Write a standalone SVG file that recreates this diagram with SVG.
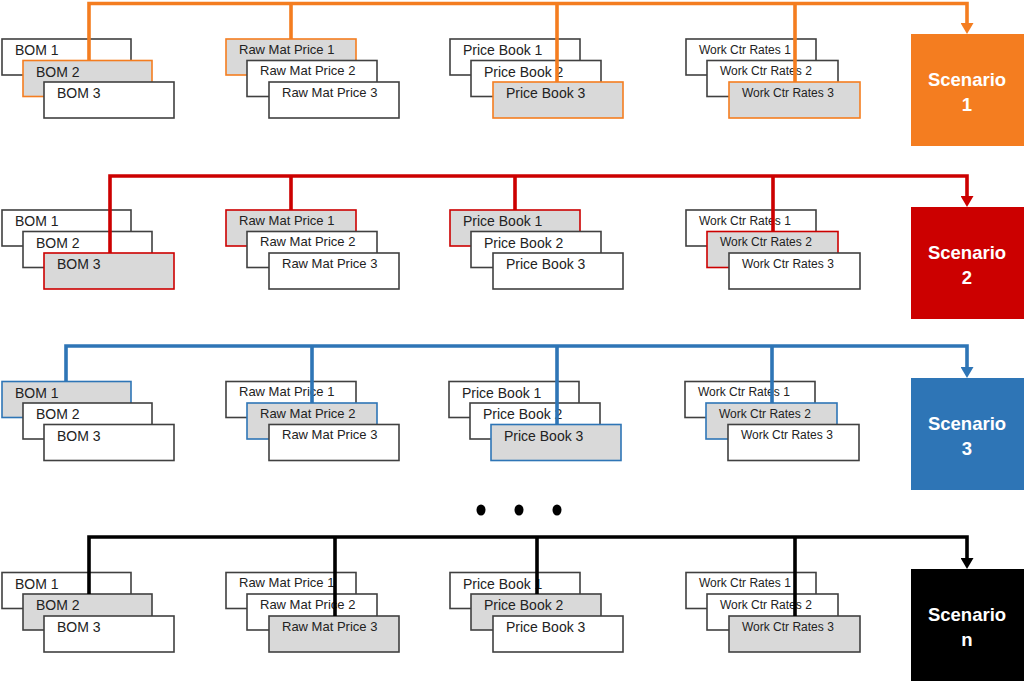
<svg xmlns="http://www.w3.org/2000/svg" width="1024" height="681" viewBox="0 0 1024 681">
<style>
.b{fill:#fff;stroke:#404040;stroke-width:1.6}
.s{fill:#d9d9d9;stroke-width:1.6}
.t{font-family:"Liberation Sans",Arial,sans-serif;font-size:14px;fill:#222}
.t2{font-family:"Liberation Sans",Arial,sans-serif;font-size:13px;fill:#222}
.t3{font-family:"Liberation Sans",Arial,sans-serif;font-size:12px;fill:#222}
.sc{font-family:"Liberation Sans",Arial,sans-serif;font-size:18.5px;font-weight:bold;fill:#fff;text-anchor:middle}
.c{fill:none;stroke-width:3.6}
.o{stroke:#f47d20}.r{stroke:#cc0000}.bl{stroke:#2e75b6}.k{stroke:#000}
</style>
<defs>
<marker id="ao" markerUnits="userSpaceOnUse" markerWidth="12" markerHeight="13" refX="2" refY="6.5" orient="auto"><path d="M0,0 L11,6.5 L0,13 z" fill="#f47d20"/></marker>
<marker id="ar" markerUnits="userSpaceOnUse" markerWidth="12" markerHeight="13" refX="2" refY="6.5" orient="auto"><path d="M0,0 L11,6.5 L0,13 z" fill="#cc0000"/></marker>
<marker id="ab" markerUnits="userSpaceOnUse" markerWidth="12" markerHeight="13" refX="2" refY="6.5" orient="auto"><path d="M0,0 L11,6.5 L0,13 z" fill="#2e75b6"/></marker>
<marker id="ak" markerUnits="userSpaceOnUse" markerWidth="12" markerHeight="13" refX="2" refY="6.5" orient="auto"><path d="M0,0 L11,6.5 L0,13 z" fill="#000"/></marker>
</defs>

<!-- Row 1 -->
<g id="r1-bom">
<g id="r1-bom1"><rect class="b" x="2" y="39" width="129" height="36"/><text class="t" x="15" y="55">BOM 1</text></g>
<g id="r1-bom2"><rect class="s" stroke="#f47d20" x="23" y="60.5" width="129" height="36"/><text class="t" x="36" y="76.5">BOM 2</text></g>
<g id="r1-bom3"><rect class="b" x="44" y="82" width="130" height="36"/><text class="t" x="57" y="98">BOM 3</text></g>
</g>
<g id="r1-rmp">
<g id="r1-rmp1"><rect class="s" stroke="#f47d20" x="226" y="39" width="130" height="36"/><text class="t2" x="239" y="53.5">Raw Mat Price 1</text></g>
<g id="r1-rmp2"><rect class="b" x="247" y="60.5" width="130" height="36"/><text class="t2" x="260" y="75">Raw Mat Price 2</text></g>
<g id="r1-rmp3"><rect class="b" x="269" y="82" width="130" height="36"/><text class="t2" x="282" y="96.5">Raw Mat Price 3</text></g>
</g>
<g id="r1-pb">
<g id="r1-pb1"><rect class="b" x="450" y="39" width="130" height="36"/><text class="t" x="463" y="55">Price Book 1</text></g>
<g id="r1-pb2"><rect class="b" x="471" y="60.5" width="130" height="36"/><text class="t" x="484" y="76.5">Price Book 2</text></g>
<g id="r1-pb3"><rect class="s" stroke="#f47d20" x="493" y="82" width="130" height="36"/><text class="t" x="506" y="98">Price Book 3</text></g>
</g>
<g id="r1-wcr">
<g id="r1-wcr1"><rect class="b" x="686" y="39" width="130" height="36"/><text class="t3" x="699" y="53.5">Work Ctr Rates 1</text></g>
<g id="r1-wcr2"><rect class="b" x="707" y="60.5" width="131" height="36"/><text class="t3" x="720" y="75">Work Ctr Rates 2</text></g>
<g id="r1-wcr3"><rect class="s" stroke="#f47d20" x="729" y="82" width="131" height="36"/><text class="t3" x="742" y="96.5">Work Ctr Rates 3</text></g>
</g>
<g id="scenario1"><rect x="911" y="34" width="113" height="112" fill="#f47d20"/><text class="sc" x="967" y="86">Scenario</text><text class="sc" x="967" y="111">1</text></g>

<!-- Row 2 -->
<g id="r2-bom">
<g id="r2-bom1"><rect class="b" x="2" y="210" width="129" height="36"/><text class="t" x="15" y="226">BOM 1</text></g>
<g id="r2-bom2"><rect class="b" x="23" y="231.5" width="129" height="36"/><text class="t" x="36" y="247.5">BOM 2</text></g>
<g id="r2-bom3"><rect class="s" stroke="#cc0000" x="44" y="253" width="130" height="36"/><text class="t" x="57" y="269">BOM 3</text></g>
</g>
<g id="r2-rmp">
<g id="r2-rmp1"><rect class="s" stroke="#cc0000" x="226" y="210" width="130" height="36"/><text class="t2" x="239" y="224.5">Raw Mat Price 1</text></g>
<g id="r2-rmp2"><rect class="b" x="247" y="231.5" width="130" height="36"/><text class="t2" x="260" y="246">Raw Mat Price 2</text></g>
<g id="r2-rmp3"><rect class="b" x="269" y="253" width="130" height="36"/><text class="t2" x="282" y="267.5">Raw Mat Price 3</text></g>
</g>
<g id="r2-pb">
<g id="r2-pb1"><rect class="s" stroke="#cc0000" x="450" y="210" width="130" height="36"/><text class="t" x="463" y="226">Price Book 1</text></g>
<g id="r2-pb2"><rect class="b" x="471" y="231.5" width="130" height="36"/><text class="t" x="484" y="247.5">Price Book 2</text></g>
<g id="r2-pb3"><rect class="b" x="493" y="253" width="130" height="36"/><text class="t" x="506" y="269">Price Book 3</text></g>
</g>
<g id="r2-wcr">
<g id="r2-wcr1"><rect class="b" x="686" y="210" width="130" height="36"/><text class="t3" x="699" y="224.5">Work Ctr Rates 1</text></g>
<g id="r2-wcr2"><rect class="s" stroke="#cc0000" x="707" y="231.5" width="131" height="36"/><text class="t3" x="720" y="246">Work Ctr Rates 2</text></g>
<g id="r2-wcr3"><rect class="b" x="729" y="253" width="131" height="36"/><text class="t3" x="742" y="267.5">Work Ctr Rates 3</text></g>
</g>
<g id="scenario2"><rect x="911" y="207" width="113" height="112" fill="#cc0000"/><text class="sc" x="967" y="259">Scenario</text><text class="sc" x="967" y="284">2</text></g>

<!-- Row 3 -->
<g id="r3-bom">
<g id="r3-bom1"><rect class="s" stroke="#2e75b6" x="2" y="381.5" width="129" height="36"/><text class="t" x="15" y="397.5">BOM 1</text></g>
<g id="r3-bom2"><rect class="b" x="23" y="403" width="129" height="36"/><text class="t" x="36" y="419">BOM 2</text></g>
<g id="r3-bom3"><rect class="b" x="44" y="424.5" width="130" height="36"/><text class="t" x="57" y="440.5">BOM 3</text></g>
</g>
<g id="r3-rmp">
<g id="r3-rmp1"><rect class="b" x="226" y="381.5" width="130" height="36"/><text class="t2" x="239" y="396">Raw Mat Price 1</text></g>
<g id="r3-rmp2"><rect class="s" stroke="#2e75b6" x="247" y="403" width="130" height="36"/><text class="t2" x="260" y="417.5">Raw Mat Price 2</text></g>
<g id="r3-rmp3"><rect class="b" x="269" y="424.5" width="130" height="36"/><text class="t2" x="282" y="439">Raw Mat Price 3</text></g>
</g>
<g id="r3-pb">
<g id="r3-pb1"><rect class="b" x="449" y="381.5" width="130" height="36"/><text class="t" x="462" y="397.5">Price Book 1</text></g>
<g id="r3-pb2"><rect class="b" x="470" y="403" width="130" height="36"/><text class="t" x="483" y="419">Price Book 2</text></g>
<g id="r3-pb3"><rect class="s" stroke="#2e75b6" x="491" y="424.5" width="130" height="36"/><text class="t" x="504" y="440.5">Price Book 3</text></g>
</g>
<g id="r3-wcr">
<g id="r3-wcr1"><rect class="b" x="685" y="381.5" width="130" height="36"/><text class="t3" x="698" y="396">Work Ctr Rates 1</text></g>
<g id="r3-wcr2"><rect class="s" stroke="#2e75b6" x="706" y="403" width="131" height="36"/><text class="t3" x="719" y="417.5">Work Ctr Rates 2</text></g>
<g id="r3-wcr3"><rect class="b" x="728" y="424.5" width="131" height="36"/><text class="t3" x="741" y="439">Work Ctr Rates 3</text></g>
</g>
<g id="scenario3"><rect x="911" y="378" width="113" height="112" fill="#2e75b6"/><text class="sc" x="967" y="430">Scenario</text><text class="sc" x="967" y="455">3</text></g>

<!-- ellipsis -->
<g id="ellipsis" fill="#000">
<ellipse cx="481" cy="510" rx="4.5" ry="5.5"/>
<ellipse cx="519" cy="510" rx="4.5" ry="5.5"/>
<ellipse cx="557" cy="510" rx="4.5" ry="5.5"/>
</g>

<!-- Row n -->
<g id="rn-bom">
<g id="rn-bom1"><rect class="b" x="2" y="572.5" width="129" height="36"/><text class="t" x="15" y="588.5">BOM 1</text></g>
<g id="rn-bom2"><rect class="s" stroke="#404040" x="23" y="594" width="129" height="36"/><text class="t" x="36" y="610">BOM 2</text></g>
<g id="rn-bom3"><rect class="b" x="44" y="616" width="130" height="36"/><text class="t" x="57" y="632">BOM 3</text></g>
</g>
<g id="rn-rmp">
<g id="rn-rmp1"><rect class="b" x="226" y="572.5" width="130" height="36"/><text class="t2" x="239" y="587">Raw Mat Price 1</text></g>
<g id="rn-rmp2"><rect class="b" x="247" y="594" width="130" height="36"/><text class="t2" x="260" y="608.5">Raw Mat Price 2</text></g>
<g id="rn-rmp3"><rect class="s" stroke="#404040" x="269" y="616" width="130" height="36"/><text class="t2" x="282" y="630.5">Raw Mat Price 3</text></g>
</g>
<g id="rn-pb">
<g id="rn-pb1"><rect class="b" x="450" y="572.5" width="130" height="36"/><text class="t" x="463" y="588.5">Price Book 1</text></g>
<g id="rn-pb2"><rect class="s" stroke="#404040" x="471" y="594" width="130" height="36"/><text class="t" x="484" y="610">Price Book 2</text></g>
<g id="rn-pb3"><rect class="b" x="493" y="616" width="130" height="36"/><text class="t" x="506" y="632">Price Book 3</text></g>
</g>
<g id="rn-wcr">
<g id="rn-wcr1"><rect class="b" x="686" y="572.5" width="130" height="36"/><text class="t3" x="699" y="587">Work Ctr Rates 1</text></g>
<g id="rn-wcr2"><rect class="b" x="707" y="594" width="131" height="36"/><text class="t3" x="720" y="608.5">Work Ctr Rates 2</text></g>
<g id="rn-wcr3"><rect class="s" stroke="#404040" x="729" y="616" width="131" height="36"/><text class="t3" x="742" y="630.5">Work Ctr Rates 3</text></g>
</g>
<g id="scenarion"><rect x="911" y="569" width="113" height="112" fill="#000"/><text class="sc" x="967" y="621">Scenario</text><text class="sc" x="967" y="646">n</text></g>

<!-- connectors -->
<g id="connectors">
<path class="c o" d="M89,60.5 V3.5 H967 V25" marker-end="url(#ao)"/>
<path class="c o" d="M291,3.5 V39 M557,3.5 V82 M795,3.5 V82"/>
<path class="c r" d="M110,253 V176 H967 V198" marker-end="url(#ar)"/>
<path class="c r" d="M291,176 V210 M515,176 V210 M773,176 V231.5"/>
<path class="c bl" d="M66,381.5 V346 H967 V369" marker-end="url(#ab)"/>
<path class="c bl" d="M312,346 V403 M557,346 V424.5 M772,346 V403"/>
<path class="c k" d="M89,594 V537 H967 V560" marker-end="url(#ak)"/>
<path class="c k" d="M335,537 V616 M537,537 V594 M795,537 V616"/>
</g>
</svg>
